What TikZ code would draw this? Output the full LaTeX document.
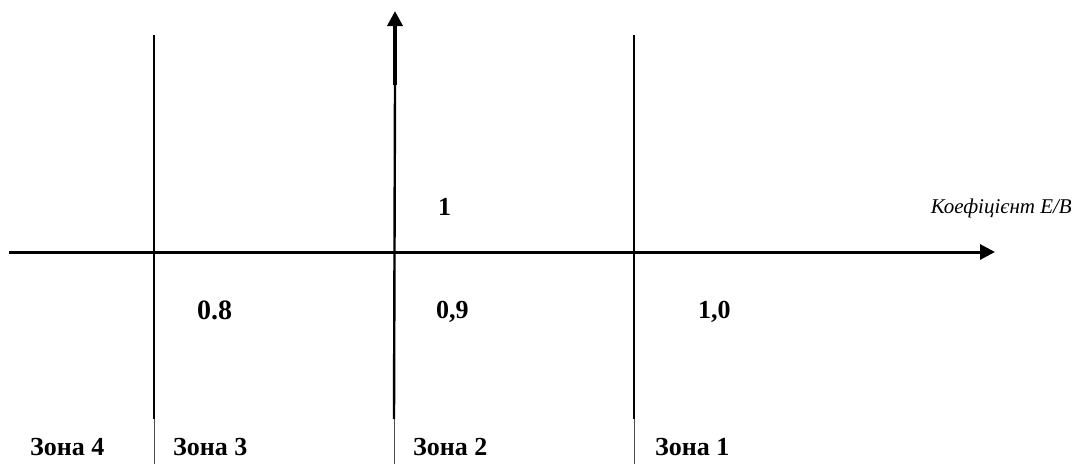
\documentclass[tikz,border=0pt]{standalone}
\usepackage{fontspec}
\setmainfont{Liberation Serif}
\usepackage{tikz}
\usetikzlibrary{arrows.meta}
\tikzstyle{axis} = [line width=3pt,-{Triangle[length=15pt,width=15pt]}]
\tikzstyle{border} = [line width=2.4pt,black]
\tikzstyle{cell} = [line width=1pt,black!70]
\tikzstyle{zonetext} = [font=\bfseries\fontsize{26}{28}\selectfont,anchor=base west,inner sep=0pt]
\tikzstyle{valtext} = [font=\bfseries\fontsize{26}{28}\selectfont,anchor=base west,inner sep=0pt]

\begin{document}
\begin{tikzpicture}[x=1pt,y=-1pt]
\useasboundingbox (0,0) rectangle (1078,464);

% axis ends
\coordinate (xstart) at (9,252);
\coordinate (xend) at (995,252);
\coordinate (ystart) at (395,85);
\coordinate (yend) at (395,11);

% zone lines
\coordinate (l3top) at (154,35);
\coordinate (l3bot) at (154,419);
\coordinate (l3end) at (154,464);
\coordinate (l2bot) at (394,419);
\coordinate (l2end) at (394,464);
\coordinate (l1top) at (634,35);
\coordinate (l1bot) at (634,419);
\coordinate (l1end) at (634,464);

\draw[border] (l3top) -- (l3bot);
\draw[border] (l1top) -- (l1bot);
\draw[border] (ystart) -- (l2bot);
\draw[cell] (l3bot) -- (l3end);
\draw[cell] (l2bot) -- (l2end);
\draw[cell] (l1bot) -- (l1end);

\draw[axis] (xstart) -- (xend);
\draw[axis,line width=3.5pt] (ystart) -- (yend);

% labels
\node[valtext] (one) at (438,215) {1};
\node[
font=\itshape\fontsize{21}{24}\selectfont,
anchor=base east,
inner sep=0pt
] (coef) at (1072,213) {Коефіцієнт Е/В};

\node[valtext,font=\bfseries\fontsize{28}{30}\selectfont] (v08) at (197,319) {0.8};
\node[valtext] (v09) at (436,318) {0,9};
\node[valtext] (v10) at (698,318) {1,0};

\node[zonetext] (z4) at (30,455) {Зона 4};
\node[zonetext] (z3) at (173,455) {Зона 3};
\node[zonetext] (z2) at (413,455) {Зона 2};
\node[zonetext] (z1) at (655,455) {Зона 1};
\end{tikzpicture}
\end{document}
